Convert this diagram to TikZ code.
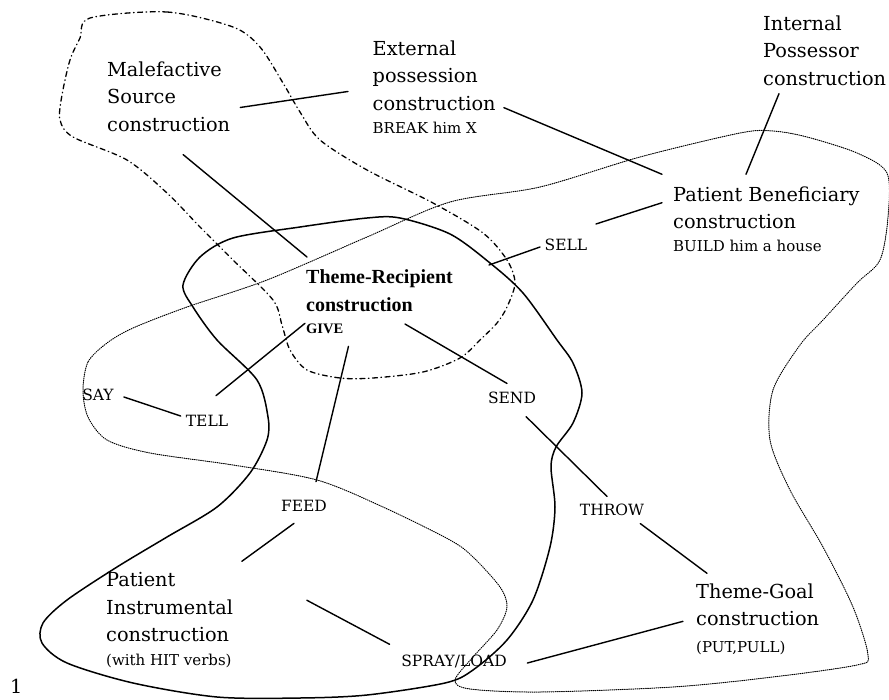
\documentclass[tikz,border=0pt]{standalone}
\usepackage{fontspec}
\setmainfont{DejaVu Serif}
\newfontfamily\heavyface{Liberation Serif}
\usetikzlibrary{arrows}

\begin{document}
\begin{tikzpicture}[line cap=round,line join=round,x=1pt,y=-1pt,
  cons/.style={align=left,anchor=north west,inner sep=0pt,font=\fontsize{19.3}{27.5}\selectfont},
  sub/.style={anchor=base west,inner sep=0pt,font=\fontsize{15}{18}\selectfont},
  verb/.style={inner sep=0pt,font=\fontsize{15.5}{18}\selectfont},
  link/.style={line width=1.4pt}]
\useasboundingbox (0,0) rectangle (889,699);
\draw[line width=1.5pt] plot[smooth cycle] coordinates {(183,285) (193,307) (217,340) (257,380) (268,417) (267,440) (250,473) (217,507) (167,537) (117,567) (67,600) (43,623) (42,643) (67,663) (133,683) (217,697) (300,698) (367,695) (445,683) (473,670) (507,640) (533,600) (550,547) (555,507) (551,467) (556,447) (573,423) (582,393) (573,363) (557,340) (523,293) (490,263) (450,234) (400,218) (367,218) (300,227) (233,238) (200,257)};
\draw[line width=1.3pt,dash pattern=on 5pt off 3.5pt on 0.6pt off 3.5pt] plot[smooth cycle] coordinates {(90,18) (167,12) (233,27) (260,47) (283,83) (300,112) (320,140) (367,170) (433,203) (483,233) (507,260) (515,283) (507,307) (497,323) (480,340) (460,358) (423,372) (373,378) (340,378) (307,370) (290,350) (282,325) (273,300) (233,260) (200,227) (167,193) (127,160) (73,137) (60,120) (62,95) (70,60) (80,38)};
\draw[line width=1pt,dash pattern=on 0.8pt off 1.3pt] plot[smooth cycle] coordinates {(107,343) (88,362) (83,390) (88,417) (107,440) (150,453) (233,465) (317,480) (383,507) (450,540) (473,557) (500,587) (507,607) (497,630) (473,657) (455,680) (470,689) (540,692) (673,687) (773,677) (857,665) (868,655) (853,607) (823,547) (790,490) (770,440) (773,390) (800,345) (823,320) (857,283) (880,260) (888,217) (887,173) (857,153) (807,137) (773,131) (740,133) (640,157) (540,187) (450,202) (367,237) (267,280) (187,307) (133,328)};

\node[cons] (mal) at (107,61.3) {Malefactive\\Source\\construction};
\node[cons] (ext) at (372.5,40.3) {External\\possession\\construction};
\node[sub] (extsub) at (372.5,133) {BREAK him X};
\node[cons] (int) at (763,15.3) {Internal\\Possessor\\construction};
\node[cons] (pben) at (673,186.3) {Patient Beneficiary\\construction};
\node[sub] (pbensub) at (673,251) {BUILD him a house};
\node[cons,font=\heavyface\bfseries\fontsize{20}{28}\selectfont] (trec) at (306,269.5) {Theme-Recipient\\construction};
\node[sub,font=\heavyface\bfseries\fontsize{14.5}{16}\selectfont] (give) at (306,333) {GIVE};
\node[cons] (pins) at (106,572.3) {Patient\\Instrumental\\construction};
\node[sub] (pinssub) at (106,665) {(with HIT verbs)};
\node[cons] (tgoal) at (696,583.3) {Theme-Goal\\construction};
\node[sub] (tgoalsub) at (696,652) {(PUT,PULL)};
\node[verb] (sell) at (566,245) {SELL};
\node[verb] (say) at (98,395) {SAY};
\node[verb] (tell) at (207,421) {TELL};
\node[verb] (send) at (512,398) {SEND};
\node[verb] (feed) at (304,506) {FEED};
\node[verb] (throw) at (612,510) {THROW};
\node[verb] (spray) at (454,661) {SPRAY/LOAD};
\node[sub,font=\fontsize{19.3}{20}\selectfont] (pg) at (10,693) {1};

\draw[link] ([shift={(10,11)}]mal.east) -- ([shift={(-24.5,16)}]ext.west);
\draw[link] ([shift={(8,-3)}]ext.south east) -- ([shift={(-11,-12)}]pben.north west);
\draw[link] ([shift={(16,8)}]int.south west) -- ([shift={(73,-12)}]pben.north west);
\draw[link] ([shift={(-11,-5)}]pben.west) -- ([shift={(8.5,-21)}]sell.east);
\draw[link] ([shift={(-4.5,2)}]sell.west) -- ([shift={(183,-4.5)}]trec.north west);
\draw[link] ([shift={(14.5,23)}]mal.south) -- ([shift={(1,-12.5)}]trec.north west);
\draw[link] ([shift={(-1,-5)}]give.west) -- ([shift={(9,-19.5)}]tell.north);
\draw[link] ([shift={(10,2)}]say.east) -- ([shift={(-5,-5)}]tell.west);
\draw[link] ([shift={(5,13)}]give.south east) -- ([shift={(12,-18.5)}]feed.north);
\draw[link] ([shift={(99,12)}]trec.south west) -- ([shift={(-5,-8.5)}]send.north);
\draw[link] ([shift={(14,12.5)}]send.south) -- ([shift={(-5,-7.5)}]throw.north);
\draw[link] ([shift={(-4,7.5)}]throw.south east) -- ([shift={(11,-10)}]tgoal.north west);
\draw[link] ([shift={(-10,11.5)}]feed.south) -- ([shift={(8.5,-11)}]pins.north east);
\draw[link] ([shift={(73.5,-7)}]pins.east) -- ([shift={(-11.5,-10)}]spray.north west);
\draw[link] ([shift={(20.5,2)}]spray.east) -- ([shift={(-13,16.6)}]tgoal.west);
\end{tikzpicture}
\end{document}
